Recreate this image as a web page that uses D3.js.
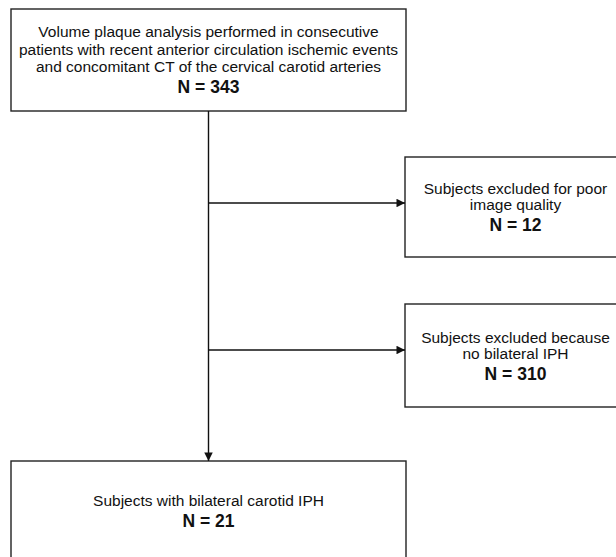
<!DOCTYPE html>
<html>
<head>
<meta charset="utf-8">
<script src="https://cdn.jsdelivr.net/npm/d3@7"></script>
<style>
  body { margin: 0; background: #fff; }
  svg { display: block; }
</style>
</head>
<body>
<div id="chart"></div>
<script>
// flow chart content
var boxIds = ["start", "poorQuality", "noBilateral", "final"];
var boxLines = [
  ["Volume plaque analysis performed in consecutive",
   "patients with recent anterior circulation ischemic events",
   "and concomitant CT of the cervical carotid arteries"],
  ["Subjects excluded for poor", "image quality"],
  ["Subjects excluded because", "no bilateral IPH"],
  ["Subjects with bilateral carotid IPH"]
];
var boxCounts = [343, 12, 310, 21];

var width = 616, height = 557;

// layout (pixels)
var layout = {
  start:       { x: 11,  y: 9,   w: 395, h: 102, first: 27.7, gap: 17.8 },
  poorQuality: { x: 405, y: 157, w: 221, h: 100, first: 36.5, gap: 16.8 },
  noBilateral: { x: 405, y: 304, w: 221, h: 103, first: 39,   gap: 16.3 },
  final:       { x: 11,  y: 461, w: 395, h: 110, first: 44.7, gap: 17 }
};
var countGap = 21;

var svg = d3.select("#chart").append("svg")
    .attr("width", width).attr("height", height);

var defs = svg.append("defs");
defs.append("marker")
    .attr("id", "arrow")
    .attr("viewBox", "0 0 10 10")
    .attr("refX", 10).attr("refY", 5)
    .attr("markerWidth", 9).attr("markerHeight", 8.5)
    .attr("markerUnits", "userSpaceOnUse")
    .attr("orient", "auto")
  .append("path")
    .attr("d", "M0,0L10,5L0,10Z")
    .attr("fill", "#111");

var boxes = boxIds.map(function(id, i){
  return { id: id, lines: boxLines[i], n: boxCounts[i], l: layout[id] };
});

// boxes
var g = svg.selectAll("g.box")
    .data(boxes)
    .enter().append("g").attr("class", "box");

g.append("rect")
    .attr("x", function(d){ return d.l.x; })
    .attr("y", function(d){ return d.l.y; })
    .attr("width", function(d){ return d.l.w; })
    .attr("height", function(d){ return d.l.h; })
    .attr("fill", "#fff")
    .attr("stroke", "#222")
    .attr("stroke-width", 1.4);

g.each(function(d){
  var cx = d.l.x + d.l.w / 2;
  var y0 = d.l.y + d.l.first;
  var sel = d3.select(this);
  sel.selectAll("text.line")
      .data(d.lines)
      .enter().append("text")
      .attr("class", "line")
      .attr("x", cx)
      .attr("y", function(t, j){ return y0 + j * d.l.gap; })
      .attr("text-anchor", "middle")
      .attr("font-family", "'Liberation Sans', Arial, sans-serif")
      .attr("font-size", "15.5px")
      .attr("fill", "#111")
      .text(function(t){ return t; });
  sel.append("text")
      .attr("x", cx)
      .attr("y", y0 + (d.lines.length - 1) * d.l.gap + countGap)
      .attr("text-anchor", "middle")
      .attr("font-family", "'Liberation Sans', Arial, sans-serif")
      .attr("font-size", "17.5px")
      .attr("font-weight", "bold")
      .attr("fill", "#111")
      .text("N = " + d.n);
});

// connectors
var trunkX = layout.start.x + layout.start.w / 2;
var links = [
  { x1: trunkX, y1: layout.start.y + layout.start.h, x2: trunkX, y2: layout.final.y },
  { x1: trunkX, y1: layout.poorQuality.y + 46, x2: layout.poorQuality.x, y2: layout.poorQuality.y + 46 },
  { x1: trunkX, y1: layout.noBilateral.y + 46, x2: layout.noBilateral.x, y2: layout.noBilateral.y + 46 }
];

svg.selectAll("line.link")
    .data(links)
    .enter().append("line")
    .attr("class", "link")
    .attr("x1", function(d){ return d.x1; })
    .attr("y1", function(d){ return d.y1; })
    .attr("x2", function(d){ return d.x2; })
    .attr("y2", function(d){ return d.y2; })
    .attr("stroke", "#111")
    .attr("stroke-width", 1.4)
    .attr("marker-end", "url(#arrow)");
</script>
</body>
</html>
